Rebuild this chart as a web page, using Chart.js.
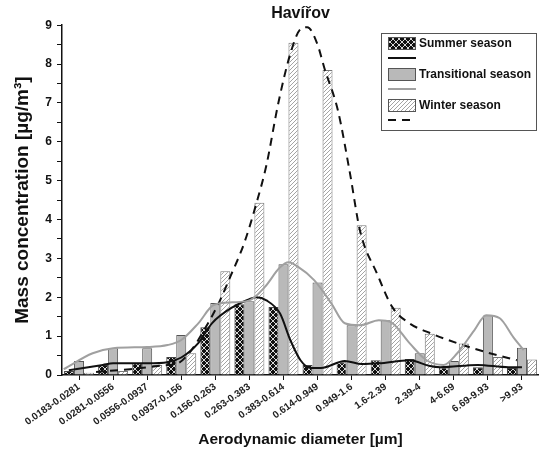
<!DOCTYPE html>
<html>
<head>
<meta charset="utf-8">
<script src="https://cdn.jsdelivr.net/npm/chart.js@4"></script>
<style>
  html, body { margin: 0; padding: 0; background: #fff; }
  #wrap { position: relative; width: 539px; height: 452px; }
  #wrap canvas { position: absolute; left: 0; top: 0; }
</style>
</head>
<body>
<div id="wrap">
  <canvas id="myChart" width="539" height="452"></canvas>
  <canvas id="fitChart" width="539" height="452"></canvas>
</div>
<script>
// size fractions (µm)
const xValues = ["0.0183-0.0281", "0.0281-0.0556", "0.0556-0.0937", "0.0937-0.156",
  "0.156-0.263", "0.263-0.383", "0.383-0.614", "0.614-0.949", "0.949-1.6",
  "1.6-2.39", "2.39-4", "4-6.69", "6.69-9.93", ">9.93"];

// bars, µg/m3
const summerValues = [0.1, 0.26, 0.3, 0.46, 1.23, 1.82, 1.75, 0.26, 0.33, 0.38, 0.41, 0.19, 0.2, 0.18];
const transValues = [0.36, 0.69, 0.69, 1.03, 1.85, 1.9, 2.85, 2.38, 1.28, 1.41, 0.56, 0.36, 1.53, 0.7];
const winterValues = [0.06, 0.1, 0.26, 0.56, 2.67, 4.43, 8.55, 7.85, 3.85, 1.73, 1.06, 0.81, 0.46, 0.4];

// fitted curves (x in size-fraction index)
const summerFitX = [-0.3, 0.7, 1, 2, 2.6, 3, 3.5, 3.9, 4.5, 5, 5.2, 5.5, 5.9, 6.2, 6.5, 6.8, 7.1, 7.8, 8.3, 8.8, 9.7, 10.3, 10.6, 11.7, 12.6, 13];
const summerFitY = [0.12, 0.26, 0.3, 0.3, 0.33, 0.45, 0.82, 1.33, 1.74, 1.95, 2.0, 1.92, 1.58, 0.9, 0.38, 0.18, 0.18, 0.36, 0.28, 0.3, 0.38, 0.23, 0.2, 0.26, 0.2, 0.2];
const transFitX = [-0.45, 0.4, 1, 2, 2.6, 3, 3.5, 3.95, 4.5, 5, 5.45, 5.9, 6.15, 6.4, 6.9, 7.4, 7.8, 8.25, 8.8, 9.15, 9.7, 10.2, 10.7, 11.1, 11.6, 11.95, 12.35, 12.75, 13.05];
const transFitY = [0.15, 0.56, 0.69, 0.72, 0.77, 0.9, 1.33, 1.8, 1.87, 1.92, 2.26, 2.77, 2.9, 2.8, 2.44, 1.85, 1.33, 1.28, 1.41, 1.36, 0.82, 0.38, 0.26, 0.56, 1.15, 1.54, 1.46, 0.97, 0.64];
const winterFitX = [0.5, 1.5, 2.5, 2.9, 3.3, 3.7, 4.1, 4.45, 4.85, 5.2, 5.5, 5.85, 6.2, 6.5, 6.7, 7.0, 7.2, 7.6, 7.95, 8.25, 8.75, 9.2, 9.7, 10.3, 11.1, 11.9, 12.85];
const winterFitY = [0.08, 0.15, 0.25, 0.3, 0.64, 1.2, 1.85, 2.55, 3.4, 4.4, 5.4, 7.0, 8.26, 8.9, 8.95, 8.5, 7.9, 6.8, 5.2, 3.7, 2.6, 1.74, 1.33, 1.08, 0.82, 0.6, 0.38];

const yTicks = [0, 1, 2, 3, 4, 5, 6, 7, 8, 9];

function makePattern(kind) {
  const c = document.createElement('canvas');
  const g = c.getContext('2d');
  if (kind === 'summer') {
    c.width = c.height = 6;
    g.fillStyle = '#111';
    g.fillRect(0, 0, 6, 6);
    g.strokeStyle = '#eee';
    g.lineWidth = 0.9;
    g.beginPath();
    g.moveTo(0, 0); g.lineTo(6, 6);
    g.moveTo(6, 0); g.lineTo(0, 6);
    g.stroke();
  } else {
    c.width = c.height = 4;
    g.fillStyle = '#fff';
    g.fillRect(0, 0, 4, 4);
    g.strokeStyle = '#9a9a9a';
    g.lineWidth = 0.9;
    g.beginPath();
    g.moveTo(0, 4); g.lineTo(4, 0);
    g.moveTo(-1, 1); g.lineTo(1, -1);
    g.moveTo(3, 5); g.lineTo(5, 3);
    g.stroke();
  }
  return g.createPattern(c, 'repeat');
}

const summerFill = makePattern('summer');
const winterFill = makePattern('winter');
const transFill = '#b9b9b9';

function pts(xs, ys) {
  return xs.map((x, i) => ({ x: x, y: ys[i] }));
}

const FONT = "'Liberation Sans', Arial, sans-serif";

// legend box drawn inside the plot, top right
const boxLegend = {
  id: 'boxLegend',
  afterDraw(chart) {
    const ctx = chart.ctx;
    ctx.save();
    ctx.strokeStyle = '#555';
    ctx.lineWidth = 1;
    ctx.strokeRect(381.5, 33.5, 155, 97);
    const rows = [
      { label: 'Summer season', fill: summerFill, y: 37, line: '#111', dash: [] },
      { label: 'Transitional season', fill: transFill, y: 68, line: '#a0a0a0', dash: [] },
      { label: 'Winter season', fill: winterFill, y: 99, line: '#111', dash: [8, 6] }
    ];
    ctx.font = "bold 12px " + FONT;
    ctx.textBaseline = 'middle';
    rows.forEach(r => {
      ctx.fillStyle = r.fill;
      ctx.fillRect(388, r.y, 28, 13);
      ctx.strokeStyle = '#555';
      ctx.setLineDash([]);
      ctx.strokeRect(388.5, r.y + 0.5, 27, 12);
      ctx.fillStyle = '#111';
      ctx.fillText(r.label, 419, r.y + 6.5);
      ctx.strokeStyle = r.line;
      ctx.lineWidth = 2;
      ctx.setLineDash(r.dash);
      ctx.beginPath();
      ctx.moveTo(388, r.y + 21);
      ctx.lineTo(416, r.y + 21);
      ctx.stroke();
      ctx.lineWidth = 1;
    });
    ctx.restore();
  }
};

// shared title / y axis so both canvases get the same chart area
function titleOpts(col) {
  return {
    display: true, text: 'Havířov', color: col, fullSize: false,
    font: { family: FONT, size: 16, weight: 'bold' },
    padding: { top: 4, bottom: 2 }
  };
}

function yOpts(col, lineCol) {
  return {
    min: 0, max: 9,
    afterBuildTicks(s) {
      const t = [];
      for (let v = 0; v <= 9; v += 0.5) t.push({ value: v });
      s.ticks = t;
    },
    grid: { drawOnChartArea: false, drawTicks: true, tickLength: 5, color: lineCol },
    border: { display: true, color: lineCol, width: 1.5 },
    ticks: {
      color: col, padding: 5,
      font: { family: FONT, size: 12, weight: 'bold' },
      callback: v => (yTicks.includes(v) ? v : '')
    },
    title: {
      display: true, text: 'Mass concentration [µg/m³]', color: col,
      font: { family: FONT, size: 19, weight: 'bold' },
      padding: { top: 11, bottom: 0 }
    },
    afterFit(s) { s.width = 62; }
  };
}

// bars
new Chart("myChart", {
  type: 'bar',
  data: {
    labels: xValues,
    datasets: [
      { label: 'Summer season', data: summerValues, backgroundColor: summerFill,
        borderColor: '#444', borderWidth: 1 },
      { label: 'Transitional season', data: transValues, backgroundColor: transFill,
        borderColor: '#555', borderWidth: 1 },
      { label: 'Winter season', data: winterValues, backgroundColor: winterFill,
        borderColor: '#777', borderWidth: 1 }
    ]
  },
  options: {
    responsive: false,
    animation: false,
    layout: { padding: 0 },
    categoryPercentage: 0.88,
    barPercentage: 1,
    plugins: {
      legend: { display: false },
      tooltip: { enabled: false },
      title: titleOpts('#111')
    },
    scales: {
      x: {
        offset: true,
        grid: { offset: false, drawOnChartArea: false, drawTicks: true, tickLength: 5, color: '#111' },
        border: { display: true, color: '#111', width: 1.5 },
        ticks: {
          color: '#222', autoSkip: false, minRotation: 35, maxRotation: 35, padding: 1,
          font: { family: FONT, size: 10, weight: 'bold' }
        },
        title: {
          display: true, text: 'Aerodynamic diameter [µm]', color: '#111',
          font: { family: FONT, size: 15.5, weight: 'bold' },
          padding: { top: 2, bottom: 3 }
        },
        afterFit(s) { s.height = 77; }
      },
      y: yOpts('#111', '#111')
    }
  }
});

// fitted curves on an overlay with the same layout
new Chart("fitChart", {
  type: 'line',
  data: {
    datasets: [
      { data: pts(transFitX, transFitY), borderColor: '#a0a0a0', borderWidth: 2 },
      { data: pts(summerFitX, summerFitY), borderColor: '#111', borderWidth: 2 },
      { data: pts(winterFitX, winterFitY), borderColor: '#111', borderWidth: 2, borderDash: [8, 6] }
    ]
  },
  options: {
    responsive: false,
    animation: false,
    layout: { padding: 0 },
    elements: { point: { radius: 0 }, line: { cubicInterpolationMode: 'monotone' } },
    plugins: {
      legend: { display: false },
      tooltip: { enabled: false },
      title: titleOpts('rgba(0,0,0,0)')
    },
    scales: {
      x: {
        type: 'linear', min: -0.5, max: 13.5,
        grid: { display: false },
        border: { display: false },
        ticks: { display: false },
        afterFit(s) { s.height = 77; }
      },
      y: yOpts('rgba(0,0,0,0)', 'rgba(0,0,0,0)')
    }
  },
  plugins: [boxLegend]
});
</script>
</body>
</html>
